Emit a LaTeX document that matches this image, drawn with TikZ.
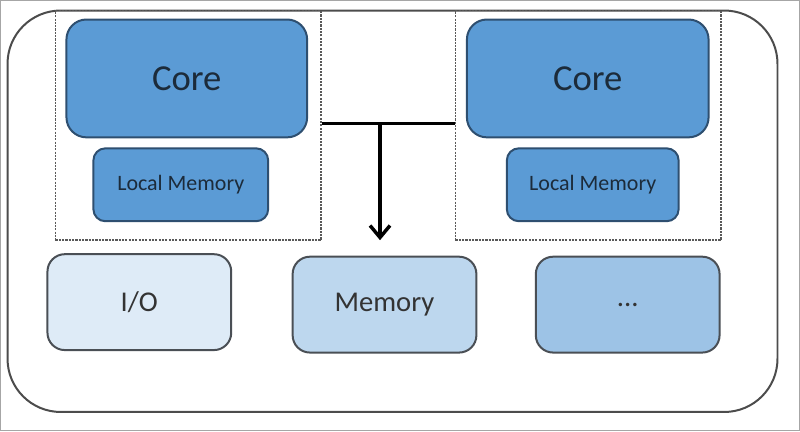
\documentclass[tikz,border=0pt]{standalone}
\usepackage{fontspec}
\setmainfont{Carlito}
\usetikzlibrary{arrows.meta}
\definecolor{coreblue}{HTML}{5B9BD5}
\definecolor{coreline}{HTML}{2E4F70}
\definecolor{iofill}{HTML}{DEEBF7}
\definecolor{memfill}{HTML}{BDD7EE}
\definecolor{morefill}{HTML}{9DC3E6}
\definecolor{boxline}{HTML}{4A4F55}
\definecolor{txtdark}{HTML}{1C2B3A}
\tikzset{
  corebox/.style={
    draw=coreline,
    fill=coreblue,
    line width=1.5pt,
    rounded corners=15pt,
    text=txtdark,
    font=\fontsize{27.5}{30}\selectfont,
    minimum width=180.75pt,
    minimum height=88.5pt
  },
  lmbox/.style={
    draw=coreline,
    fill=coreblue,
    line width=1.5pt,
    rounded corners=9pt,
    text=txtdark,
    font=\fontsize{16.5}{19}\selectfont,
    minimum width=131.25pt,
    minimum height=54.75pt
  },
  unitbox/.style={
    draw=boxline,
    line width=1.5pt,
    rounded corners=13pt,
    text=black!80,
    font=\fontsize{21.5}{24}\selectfont,
    minimum width=138pt,
    minimum height=72pt
  },
  group/.style={
    draw=black!65,
    dash pattern=on 1.6pt off 0.9pt,
    line width=1.1pt,
    minimum width=199.5pt,
    minimum height=172.5pt
  },
  link/.style={
    line width=2.6pt,
    draw=black
  }
}

\begin{document}
\begin{tikzpicture}[x=0.75pt,y=-0.75pt]

\draw[black!35, line width=0.8pt] (0,0) rectangle (800,431);
\useasboundingbox (0,0) rectangle (800,431);

% chip outline
\draw[draw=black!70, line width=1.5pt, rounded corners=40pt] (7,10) rectangle (778,412);

% the two cores
\node[group] (leftgrp) at (188,125) {};
\node[group] (rightgrp) at (588.5,125) {};

\node[corebox] (core1) at (186.5,78) {Core};
\node[lmbox] (lmem1) at (180.5,184.5) {Local Memory};

\node[corebox, minimum width=181.5pt] (core2) at (588,78) {Core};
\node[lmbox, minimum width=129pt] (lmem2) at (593,184.5) {Local Memory};

% shared units
\node[unitbox, fill=iofill] (io) at (139,302) {I/O};
\node[unitbox, fill=memfill] (mem) at (384.5,304.5) {Memory};
\node[unitbox, fill=morefill] (more) at (628,304.5) {...};

% bus
\coordinate (busmid) at (380,123);
\draw[link] (leftgrp.east |- busmid) -- (rightgrp.west |- busmid);
\draw[link, -{Straight Barb[length=9pt,width=15pt]}] (busmid) -- (busmid |- 0,240);

\end{tikzpicture}
\end{document}
